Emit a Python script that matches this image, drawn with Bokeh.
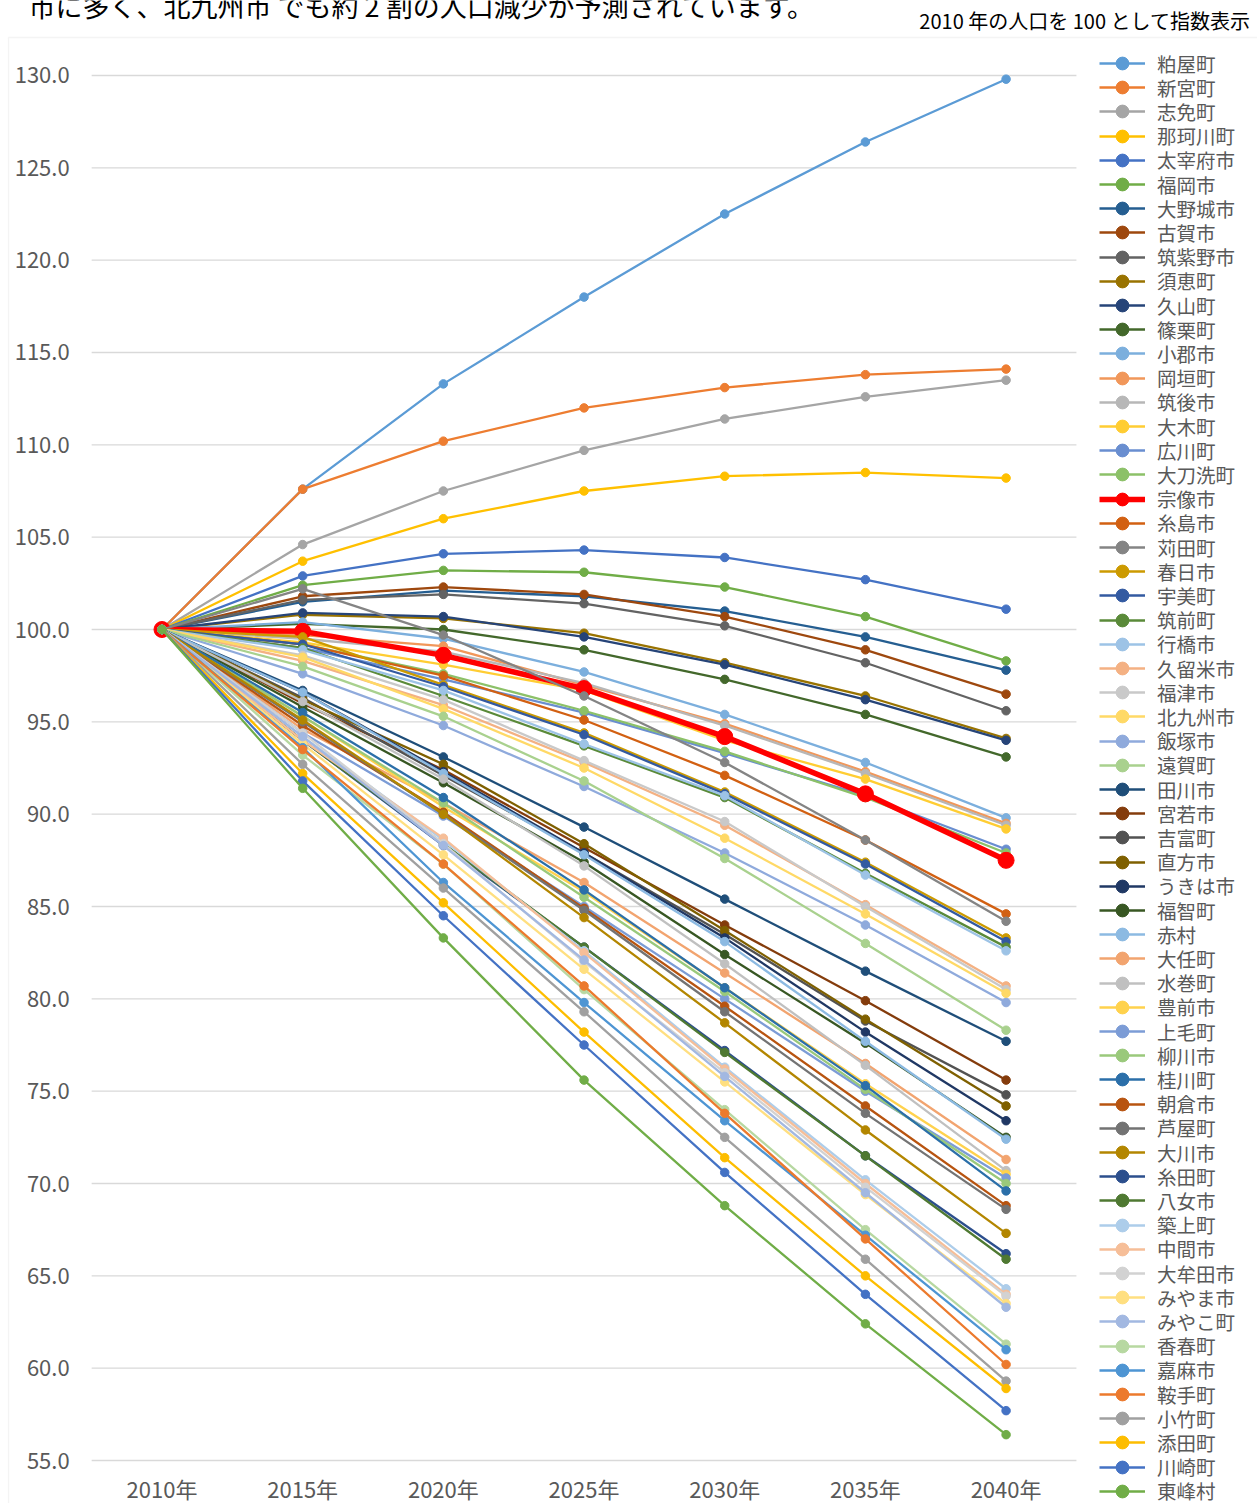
from bokeh.plotting import figure
from bokeh.models import (Range1d, FixedTicker, SingleIntervalTicker, NumeralTickFormatter,
                          Legend, LegendItem, Label, BoxAnnotation)
from bokeh.embed import file_html
from bokeh.resources import INLINE

# 福岡県内市町村の将来人口（2010年=100）
years = ["2010年", "2015年", "2020年", "2025年", "2030年", "2035年", "2040年"]

names = ["粕屋町", "新宮町", "志免町", "那珂川町", "太宰府市", "福岡市", "大野城市", "古賀市",
         "筑紫野市", "須恵町", "久山町", "篠栗町", "小郡市", "岡垣町", "筑後市", "大木町",
         "広川町", "大刀洗町", "宗像市", "糸島市", "苅田町", "春日市", "宇美町", "筑前町",
         "行橋市", "久留米市", "福津市", "北九州市", "飯塚市", "遠賀町", "田川市", "宮若市",
         "吉富町", "直方市", "うきは市", "福智町", "赤村", "大任町", "水巻町", "豊前市",
         "上毛町", "柳川市", "桂川町", "朝倉市", "芦屋町", "大川市", "糸田町", "八女市",
         "築上町", "中間市", "大牟田市", "みやま市", "みやこ町", "香春町", "嘉麻市", "鞍手町",
         "小竹町", "添田町", "川崎町", "東峰村"]

v2010 = [100.0] * 60
v2015 = [107.6, 107.6, 104.6, 103.7, 102.9, 102.4, 101.5, 101.8, 101.6, 100.8,
         100.9, 100.3, 100.4, 99.7, 99.5, 99.3, 99.0, 99.2, 99.9, 99.2,
         102.2, 99.6, 99.2, 99.0, 98.9, 98.3, 98.6, 98.5, 97.6, 98.0,
         96.7, 96.0, 96.3, 96.2, 96.6, 95.8, 96.6, 94.6, 96.1, 95.3,
         94.4, 95.3, 95.5, 94.8, 95.0, 95.1, 94.0, 94.0, 94.2, 94.0,
         94.4, 93.8, 94.2, 93.2, 93.6, 93.5, 92.7, 92.2, 91.8, 91.4]
v2020 = [113.3, 110.2, 107.5, 106.0, 104.1, 103.2, 102.1, 102.3, 101.9, 100.6,
         100.7, 100.0, 99.5, 99.1, 98.8, 98.1, 97.3, 97.6, 98.6, 97.5,
         99.7, 97.0, 96.9, 96.4, 96.7, 95.9, 96.2, 95.7, 94.8, 95.3,
         93.1, 92.4, 92.1, 92.7, 92.3, 91.7, 92.2, 90.6, 91.9, 90.4,
         89.9, 90.6, 90.9, 90.1, 90.0, 90.0, 88.3, 88.4, 88.6, 88.7,
         88.4, 87.8, 88.3, 87.3, 86.3, 87.3, 86.0, 85.2, 84.5, 83.3]
v2025 = [118.0, 112.0, 109.7, 107.5, 104.3, 103.1, 101.8, 101.9, 101.4, 99.8,
         99.6, 98.9, 97.7, 97.0, 97.1, 96.7, 95.5, 95.6, 96.8, 95.1,
         96.4, 94.4, 94.3, 93.7, 93.8, 92.8, 92.9, 92.5, 91.5, 91.8,
         89.3, 88.2, 87.9, 88.4, 87.9, 87.4, 87.8, 86.3, 87.2, 85.8,
         85.0, 85.5, 85.9, 84.9, 84.8, 84.4, 82.8, 82.8, 82.6, 82.5,
         82.0, 81.6, 82.1, 80.5, 79.8, 80.7, 79.3, 78.2, 77.5, 75.6]
v2030 = [122.5, 113.1, 111.4, 108.3, 103.9, 102.3, 101.0, 100.7, 100.2, 98.2,
         98.1, 97.3, 95.4, 94.9, 94.8, 94.0, 93.3, 93.4, 94.2, 92.1,
         92.8, 91.2, 91.1, 90.9, 91.0, 89.4, 89.6, 88.7, 87.9, 87.6,
         85.4, 84.0, 83.5, 83.7, 83.3, 82.4, 83.1, 81.4, 81.9, 80.6,
         80.0, 80.4, 80.6, 79.6, 79.3, 78.7, 77.2, 77.1, 76.3, 76.2,
         76.0, 75.5, 75.8, 74.0, 73.4, 73.8, 72.5, 71.4, 70.6, 68.8]
v2035 = [126.4, 113.8, 112.6, 108.5, 102.7, 100.7, 99.6, 98.9, 98.2, 96.4,
         96.2, 95.4, 92.8, 92.3, 92.2, 91.9, 91.0, 90.9, 91.1, 88.6,
         88.6, 87.4, 87.3, 86.8, 86.7, 85.1, 85.0, 84.6, 84.0, 83.0,
         81.5, 79.9, 78.8, 78.9, 78.2, 77.6, 77.7, 76.5, 76.4, 75.4,
         75.0, 75.1, 75.3, 74.2, 73.8, 72.9, 71.5, 71.5, 70.2, 70.0,
         69.8, 69.4, 69.5, 67.5, 67.2, 67.0, 65.9, 65.0, 64.0, 62.4]
v2040 = [129.8, 114.1, 113.5, 108.2, 101.1, 98.3, 97.8, 96.5, 95.6, 94.1,
         94.0, 93.1, 89.8, 89.5, 89.4, 89.2, 88.1, 87.9, 87.5, 84.6,
         84.2, 83.3, 83.1, 82.8, 82.6, 80.7, 80.5, 80.3, 79.8, 78.3,
         77.7, 75.6, 74.8, 74.2, 73.4, 72.5, 72.4, 71.3, 70.7, 70.5,
         70.3, 70.0, 69.6, 68.8, 68.6, 67.3, 66.2, 65.9, 64.3, 64.0,
         63.9, 63.5, 63.3, 61.3, 61.0, 60.2, 59.3, 58.9, 57.7, 56.4]

colors = ["#5B9BD5", "#ED7D31", "#A5A5A5", "#FFC000", "#4472C4", "#70AD47",
          "#255E91", "#9E480E", "#636363", "#997300", "#264478", "#43682B",
          "#7CAFDD", "#F1975A", "#B7B7B7", "#FFCD33", "#698ED0", "#8CC168",
          "#FF0000", "#D26012", "#848484", "#CC9A00", "#335AA1", "#5A8A39",
          "#9DC3E6", "#F4B183", "#C9C9C9", "#FFD966", "#8FAADC", "#A9D18E",
          "#1F4E79", "#843C0C", "#525252", "#7F6000", "#203864", "#385723",
          "#8CBAE2", "#F2A46F", "#C0C0C0", "#FFD24D", "#7C9CD6", "#9AC97B",
          "#2B6FA9", "#B85410", "#737373", "#B38600", "#2C4F8D", "#4F7932",
          "#ADCDEA", "#F6BE98", "#D2D2D2", "#FFDF80", "#A2B8E1", "#B7D8A1",
          "#4E95D3", "#EC7A2D", "#A0A0A0", "#FDBD00", "#4472C4", "#70AD47"]

grid_values = list(range(55, 131, 5))
highlight = "宗像市"

JP = "Noto Sans CJK JP"
GREY_TXT = "#595959"

# canvas geometry (pixels) and the pixel -> data mapping used by the ranges
W, H = 1257, 1503
X0_PX, DX_PX = 161.5, 140.68      # first category centre, category pitch
Y100_PX, DY_PX = 629.0, 18.467    # position of 100, pixels per index point


def dx(px):
    return (px - X0_PX) / DX_PX


def dy(py):
    return 100 + (Y100_PX - py) / DY_PX


p = figure(width=W, height=H, output_backend="svg", toolbar_location=None,
           x_range=Range1d(dx(0), dx(W)), y_range=Range1d(dy(H), dy(0)),
           min_border_left=0, min_border_right=0, min_border_top=0, min_border_bottom=0)
p.outline_line_color = None
p.background_fill_color = "white"
p.border_fill_color = "white"
p.xgrid.visible = False
p.ygrid.visible = False

# chart area border
p.add_layout(BoxAnnotation(left=dx(8), right=dx(W + 30), top=dy(37), bottom=dy(H + 30),
                           fill_alpha=0, line_color="#D9D9D9", line_width=1.3))

# horizontal gridlines across the category span
n_cat = len(years)
p.segment(x0=[-0.5] * len(grid_values), x1=[n_cat - 0.5] * len(grid_values),
          y0=grid_values, y1=grid_values, line_color="#D9D9D9", line_width=1.3)

xs = list(range(n_cat))
series = list(zip(v2010, v2015, v2020, v2025, v2030, v2035, v2040))

items = []
for name, col, ys in zip(names, colors, series):
    hl = name == highlight
    lw = 5.5 if hl else 2.3
    ms = 16 if hl else 8.5
    r1 = p.line(xs, list(ys), line_color=col, line_width=lw)
    r2 = p.scatter(xs, list(ys), size=ms, fill_color=col, line_color=col)
    items.append(LegendItem(label=name, renderers=[r1, r2]))

# axes drawn at the edges of the category area
p.xaxis.fixed_location = 55
p.yaxis.fixed_location = -0.5
p.xaxis.ticker = FixedTicker(ticks=xs)
p.xaxis.major_label_overrides = {i: t for i, t in enumerate(years)}
p.yaxis.ticker = SingleIntervalTicker(interval=5)
p.yaxis.formatter = NumeralTickFormatter(format="0.0")
for ax in (p.xaxis[0], p.yaxis[0]):
    ax.axis_line_color = None
    ax.major_tick_line_color = None
    ax.minor_tick_line_color = None
    ax.major_label_text_font = JP
    ax.major_label_text_color = GREY_TXT
p.yaxis.major_label_text_font_size = "22px"
p.xaxis.major_label_text_font_size = "22px"
p.yaxis.major_label_standoff = 16
p.xaxis.major_label_standoff = 5

# legend: one block per entry so the pitch between entries is exact
ENTRY_H = 32           # fixed block height (larger than the text)
PITCH = 24.2
FIRST_CENTRE = 63
for i, item in enumerate(items):
    centre = FIRST_CENTRE + i * PITCH
    lg = Legend(items=[item], location=(1099, H - centre - ENTRY_H / 2),
                orientation="vertical", padding=0, margin=0, spacing=0,
                label_height=ENTRY_H, glyph_height=ENTRY_H,
                glyph_width=46, label_standoff=12,
                label_text_font=JP, label_text_font_size="19.5px",
                label_text_color=GREY_TXT,
                border_line_color=None, background_fill_alpha=0)
    p.add_layout(lg)

p.add_layout(Label(x=dx(28), y=dy(24.5),
                   text="市に多く、北九州市 でも約 2 割の人口減少が予測されています。",
                   text_font=JP, text_font_size="27px", text_color="#000000"))
p.add_layout(Label(x=dx(1250), y=dy(34), text_align="right",
                   text="2010 年の人口を 100 として指数表示",
                   text_font=JP, text_font_size="20px", text_color="#000000"))

open("out.html", "w").write(file_html(p, INLINE))
